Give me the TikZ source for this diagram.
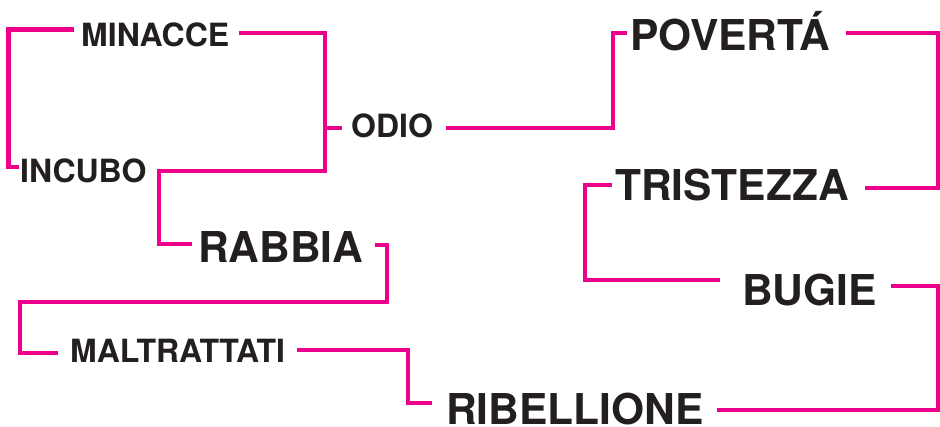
\documentclass[tikz,border=0pt]{standalone}
\usepackage{fontspec}
\setmainfont{TeX Gyre Heros}
\usetikzlibrary{calc}
\definecolor{pinkline}{HTML}{EC008C}
\definecolor{inktext}{HTML}{231F20}
\tikzset{
  link/.style={draw=pinkline, line width=4.5pt, line join=miter},
  smallword/.style={anchor=base west, inner sep=0pt, text=inktext, font=\bfseries\fontsize{32}{32}\selectfont},
  bigword/.style={anchor=base west, inner sep=0pt, text=inktext, font=\bfseries\fontsize{42.5}{42.5}\selectfont}
}
\begin{document}
\begin{tikzpicture}[x=1pt,y=-1pt]
\useasboundingbox (0,0) rectangle (940,426);
% words
\node[smallword] (minacce) at (81,46) {MINACCE};
\node[smallword] (incubo) at (20,182) {INCUBO};
\node[smallword] (odio) at (351,137) {ODIO};
\node[bigword] (rabbia) at (198,262) {RABBIA};
\node[smallword] (maltrattati) at (70,362) {MALTRATTATI};
\node[bigword] (poverta) at (630,50) {POVERTÁ};
\node[bigword] (tristezza) at (615,200) {TRISTEZZA};
\node[bigword] (bugie) at (742,305) {BUGIE};
\node[bigword] (ribellione) at (446,424.5) {RIBELLIONE};
% connector ends
\coordinate (s1) at ($(minacce.base west)+(-7,-16.5)$);
\coordinate (e1) at ($(incubo.base west)+(-1,-15)$);
\coordinate (s2) at ($(minacce.base east)+(10,-13)$);
\coordinate (e2) at ($(rabbia.base west)+(-6,-18)$);
\coordinate (e3) at ($(odio.base west)+(-9,-9)$);
\coordinate (s4) at ($(odio.base east)+(13,-9)$);
\coordinate (e4) at ($(poverta.base west)+(-3,-17)$);
\coordinate (s5) at ($(poverta.base east)+(15,-17)$);
\coordinate (e5) at ($(tristezza.base east)+(16,-12)$);
\coordinate (s6) at ($(tristezza.base west)+(-3,-15)$);
\coordinate (e6) at ($(bugie.base west)+(-22,-25)$);
\coordinate (s7) at ($(bugie.base east)+(14,-19)$);
\coordinate (e7) at ($(ribellione.base east)+(13,-14.5)$);
\coordinate (s8) at ($(rabbia.base east)+(11,-17)$);
\coordinate (e8) at ($(maltrattati.base west)+(-12,-9)$);
\coordinate (s9) at ($(maltrattati.base east)+(12,-12)$);
\coordinate (e9) at ($(ribellione.base west)+(-14,-21.5)$);
\coordinate (v2) at (325,171);
% connectors
\draw[link] (s1) -| (8.5,100) |- (e1);
\draw[link] (s2) -| (v2) -| (159,210) |- (e2);
\draw[link] (v2 |- e3) -- (e3);
\draw[link] (s4) -| (613,80) |- (e4);
\draw[link] (s5) -| (938,110) |- (e5);
\draw[link] (s6) -| (585,230) |- (e6);
\draw[link] (s7) -| (938,350) |- (e7);
\draw[link] (s8) -| (387,302) -| (20,330) |- (e8);
\draw[link] (s9) -| (408,380) |- (e9);
\end{tikzpicture}
\end{document}
